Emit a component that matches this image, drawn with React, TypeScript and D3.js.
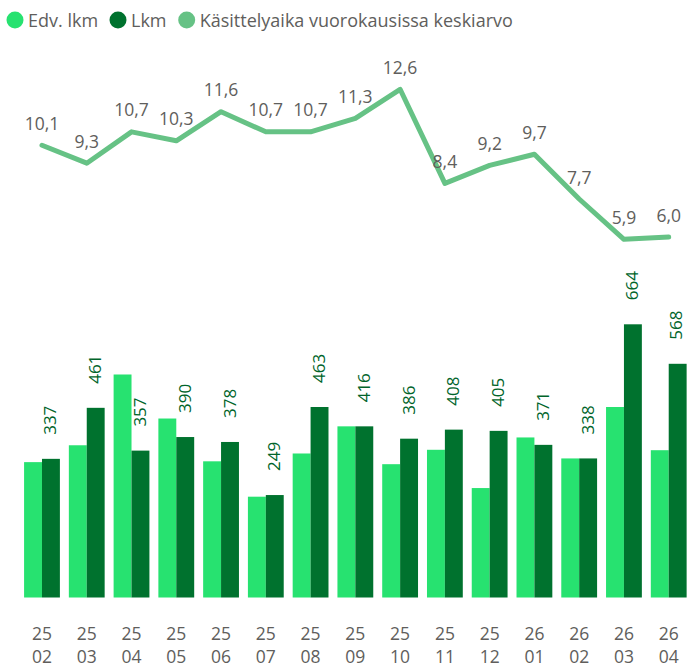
import React from "react";
import * as d3 from "d3";

const months = ["25 02","25 03","25 04","25 05","25 06","25 07","25 08","25 09","25 10","25 11","25 12","26 01","26 02","26 03","26 04"];
const edvLkm = [329,370,542,435,331,245,350,416,324,359,266,389,338,463,358];
const lkm = [337,461,357,390,378,249,463,416,386,408,405,371,338,664,568];
const kasittely = [10.1,9.3,10.7,10.3,11.6,10.7,10.7,11.3,12.6,8.4,9.2,9.7,7.7,5.9,6.0];
const legendItems = ["Edv. lkm","Lkm","Käsittelyaika vuorokausissa keskiarvo"];

const W = 687, H = 667;
const C_LIGHT = "#27E270";
const C_DARK = "#00722E";
const C_LINE = "#66C285";
const C_TEXT = "#605E5C";
const C_BARLABEL = "#00642A";
const FONT = "'Open Sans', 'Noto Sans', sans-serif";

export default function App() {
  const x = d3.scaleBand<string>().domain(months).range([19.6, 691.1]).paddingInner(0.2).paddingOuter(0.1);
  const sub = d3.scaleBand<string>().domain(["edv","lkm"]).range([0, x.bandwidth()]);
  const yBar = d3.scaleLinear().domain([0, 664]).range([597.5, 324.3]);
  const yLine = d3.scaleLinear().domain([0, 12.6]).range([371.4, 89.3]);
  const cx = (m: string) => (x(m) as number) + x.bandwidth() / 2;
  const line = d3.line<number>().x((_, i) => cx(months[i])).y(v => yLine(v));
  const fmt = (v: number) => d3.format(".1f")(v).replace(".", ",");

  const legendX = [15, 118, 186.7];
  const legendColors = [C_LIGHT, C_DARK, C_LINE];
  const labelBaseX = (m: string) =>
    Math.min((x(m) as number) + (sub("lkm") as number) + sub.bandwidth() / 2 + 5.5, W - 5);

  return (
    <svg width={W} height={H} style={{ position: "absolute", left: 0, top: 0, background: "#fff" }} fontFamily={FONT}>
      {legendItems.map((t, i) => (
        <g key={t}>
          <circle cx={legendX[i]} cy={20} r={8.5} fill={legendColors[i]} />
          <text x={legendX[i] + 13} y={26.5} fontSize={18} fill={C_TEXT}>{t}</text>
        </g>
      ))}
      {months.map((m, i) => (
        <g key={m}>
          <rect x={(x(m) as number) + (sub("edv") as number)} y={yBar(edvLkm[i])} width={sub.bandwidth()} height={yBar(0) - yBar(edvLkm[i])} fill={C_LIGHT} />
          <rect x={(x(m) as number) + (sub("lkm") as number)} y={yBar(lkm[i])} width={sub.bandwidth()} height={yBar(0) - yBar(lkm[i])} fill={C_DARK} />
          <text
            transform={`translate(${labelBaseX(m)},${yBar(lkm[i]) - 24}) rotate(-90)`}
            fontSize={17} fill={C_BARLABEL} textAnchor="start"
          >{lkm[i]}</text>
          <text x={cx(m)} y={640} textAnchor="middle" fontSize={17.5} fill={C_TEXT}>{m.split(" ")[0]}</text>
          <text x={cx(m)} y={663} textAnchor="middle" fontSize={17.5} fill={C_TEXT}>{m.split(" ")[1]}</text>
        </g>
      ))}
      <path d={line(kasittely) || ""} fill="none" stroke={C_LINE} strokeWidth={5} strokeLinejoin="round" strokeLinecap="round" />
      {kasittely.map((v, i) => (
        <text key={i} x={cx(months[i])} y={yLine(v) - 15.5} textAnchor="middle" fontSize={17.5} fill={C_TEXT}>{fmt(v)}</text>
      ))}
    </svg>
  );
}
